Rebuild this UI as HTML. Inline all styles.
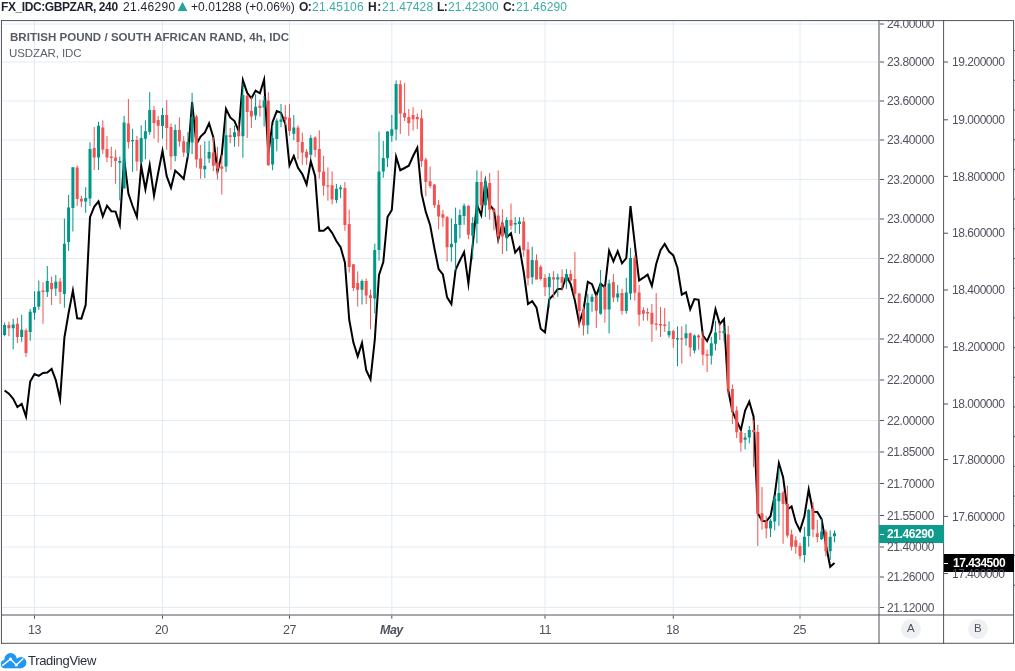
<!DOCTYPE html><html><head><meta charset="utf-8"><title>GBPZAR chart</title><style>
html,body{margin:0;padding:0;background:#fff;}body{width:1015px;height:671px;position:relative;overflow:hidden;font-family:"Liberation Sans",sans-serif;}
svg{position:absolute;left:0;top:0;}
.t{position:absolute;white-space:nowrap;line-height:1;margin:0;padding:0;will-change:transform;}
</style></head><body>
<svg width="1015" height="671" viewBox="0 0 1015 671" shape-rendering="geometricPrecision">
<path d="M2 24.0H879 M2 62.0H879 M2 101.0H879 M2 140.0H879 M2 179.5H879 M2 219.0H879 M2 258.5H879 M2 298.5H879 M2 339.0H879 M2 380.0H879 M2 420.5H879 M2 452.0H879 M2 483.5H879 M2 515.5H879 M2 547.0H879 M2 577.0H879 M2 607.5H879 M34.5 21V615 M162.5 21V615 M289.5 21V615 M391.8 21V615 M545.0 21V615 M673.3 21V615 M800.0 21V615" stroke="#e0ecf2" stroke-width="1" fill="none"/>
<polyline points="4.6,390.5 8.9,393.7 13.2,398.9 17.4,407.1 21.7,403.9 26.0,416.5 30.2,381.6 34.5,374.0 38.8,375.8 43.0,373.0 47.3,372.6 51.6,369.0 55.8,380.1 60.1,399.3 64.4,337.7 68.6,313.0 72.9,290.6 77.2,318.4 81.4,318.6 85.7,304.7 90.0,217.2 94.2,206.8 98.5,201.4 102.8,216.4 107.0,205.7 111.3,211.2 115.6,211.6 119.8,224.8 124.1,158.3 128.4,193.5 132.6,206.0 136.9,216.9 141.2,166.0 145.4,189.3 149.7,165.2 154.0,195.6 158.2,172.7 162.5,150.9 166.7,176.2 171.0,187.8 175.2,170.6 179.4,174.5 183.7,178.9 187.9,155.9 192.1,102.2 196.4,144.1 200.6,136.5 204.8,132.6 209.1,123.4 213.3,137.1 217.5,171.7 221.8,154.1 226.0,108.8 230.2,117.4 234.5,121.0 238.7,131.0 242.9,80.1 247.2,92.9 251.4,98.3 255.6,90.6 259.9,93.3 264.1,79.7 268.3,154.0 272.6,121.9 276.8,111.1 281.0,112.7 285.3,123.8 289.5,165.4 293.8,155.9 298.0,167.8 302.3,174.1 306.6,184.5 310.8,161.4 315.1,175.9 319.3,230.8 323.6,230.8 327.9,227.2 332.1,232.9 336.4,241.0 340.6,247.2 344.9,262.5 349.2,319.5 353.4,342.6 357.7,356.4 362.0,342.9 366.2,370.2 370.5,379.3 374.8,339.6 379.0,275.0 383.3,262.0 387.5,217.0 391.8,210.0 396.1,156.7 400.3,170.2 404.6,168.0 408.8,165.7 413.1,156.0 417.3,147.7 421.6,193.6 425.8,211.9 430.1,224.9 434.4,248.2 438.6,269.0 442.9,274.5 447.1,297.4 451.4,304.1 455.6,269.8 459.9,260.5 464.1,252.1 468.4,283.6 472.7,245.0 476.9,204.4 481.2,215.1 485.4,181.5 489.7,205.3 493.9,209.7 498.2,239.7 502.4,223.5 506.7,237.4 511.0,233.2 515.2,252.6 519.5,247.4 523.7,272.0 528.0,304.0 532.2,301.1 536.5,307.6 540.7,328.8 545.0,332.3 549.3,299.3 553.6,294.6 557.8,288.9 562.1,288.7 566.4,275.7 570.7,284.2 574.9,300.6 579.2,323.0 583.5,310.0 587.8,281.9 592.0,284.2 596.3,295.7 600.6,283.5 604.9,287.7 609.1,250.8 613.4,261.4 617.7,251.2 622.0,263.3 626.3,258.2 630.5,206.2 634.8,244.0 639.1,280.6 643.4,277.7 647.6,274.6 651.9,285.8 656.2,264.0 660.5,250.1 664.7,243.9 669.0,251.6 673.3,255.4 677.5,268.0 681.8,294.7 686.0,292.3 690.2,309.3 694.4,299.1 698.6,299.8 702.9,335.6 707.1,341.1 711.3,331.1 715.5,309.2 719.8,324.1 724.0,319.0 728.2,390.0 732.4,411.4 736.7,421.0 740.9,430.0 745.1,410.6 749.3,401.6 753.6,416.6 757.8,513.2 762.0,520.7 766.2,521.4 770.5,516.2 774.7,495.3 778.9,463.2 783.1,477.3 787.4,509.4 791.6,506.5 795.8,522.2 800.0,530.5 804.4,516.2 808.7,489.5 813.0,511.7 817.3,512.0 821.6,519.2 825.9,544.5 830.2,566.8 834.5,563.1" fill="none" stroke="#000" stroke-width="2" stroke-linejoin="miter" stroke-miterlimit="10" stroke-linecap="butt" shape-rendering="geometricPrecision"/>
<path d="M4.6 322.6V336.3 M13.2 318.8V349.4 M21.7 314.8V341.8 M30.2 308.9V340.8 M34.5 291.2V319.6 M38.8 280.5V309.8 M47.3 266.0V297.0 M55.8 274.9V296.0 M64.4 218.7V307.7 M68.6 194.9V250.9 M72.9 167.3V231.5 M85.7 187.2V212.8 M90.0 142.2V206.0 M98.5 121.7V170.0 M119.8 156.6V200.4 M124.1 115.8V188.4 M132.6 128.8V171.8 M141.2 125.3V161.9 M145.4 120.4V159.2 M149.7 92.2V134.7 M162.5 107.9V138.7 M175.2 124.5V161.2 M187.9 132.3V157.7 M192.1 92.9V154.1 M204.8 141.2V178.2 M209.1 140.7V163.0 M226.0 118.3V172.0 M234.5 125.5V146.6 M242.9 83.4V157.7 M255.6 94.2V120.1 M264.1 95.9V126.4 M272.6 125.5V170.2 M276.8 118.3V151.4 M281.0 104.0V127.2 M293.8 115.0V140.1 M310.8 135.1V158.9 M336.4 183.9V203.1 M340.6 185.2V198.2 M362.0 279.4V304.5 M374.8 243.7V313.5 M379.0 131.5V260.7 M383.3 141.0V177.7 M387.5 131.1V167.0 M391.8 115.0V141.8 M396.1 80.4V140.4 M451.4 218.3V261.6 M455.6 207.6V270.2 M459.9 209.4V238.3 M464.1 203.5V224.9 M472.7 217.2V259.5 M476.9 170.4V243.4 M485.4 178.4V216.9 M506.7 217.2V251.2 M515.2 217.2V233.0 M519.5 217.2V233.9 M532.2 246.7V284.4 M549.3 273.2V307.3 M557.8 273.7V296.8 M566.4 269.0V288.9 M587.8 293.9V334.1 M592.0 293.9V311.8 M600.6 270.0V314.7 M609.1 279.7V333.4 M617.7 284.9V301.8 M626.3 277.9V313.7 M630.5 247.7V299.8 M669.0 321.4V337.8 M677.5 326.3V366.1 M686.0 324.4V345.7 M694.4 334.4V353.5 M711.3 336.8V364.6 M715.5 321.0V350.5 M724.0 326.3V341.5 M745.1 433.0V449.4 M749.3 426.0V443.4 M770.5 519.2V537.1 M774.7 495.3V530.4 M778.9 468.0V525.9 M804.4 526.9V562.4 M808.7 509.0V546.8 M821.6 519.2V540.0 M830.2 530.4V560.0 M834.5 530.4V542.3" stroke="#009688" stroke-width="1" fill="none"/>
<path d="M8.9 321.7V336.3 M17.4 317.8V343.1 M26.0 328.5V356.9 M43.0 282.4V323.8 M51.6 276.7V305.0 M60.1 277.9V303.9 M77.2 165.5V206.0 M81.4 195.9V207.2 M94.2 127.0V170.0 M102.8 120.4V153.9 M107.0 136.0V162.3 M111.3 146.7V167.0 M115.6 149.8V183.7 M128.4 99.0V148.5 M136.9 136.0V170.9 M154.0 106.1V138.7 M158.2 115.8V142.6 M166.7 100.2V149.8 M171.0 123.5V170.0 M179.4 117.4V146.6 M183.7 136.2V156.8 M196.4 114.7V167.5 M200.6 145.1V178.8 M213.3 137.1V171.1 M217.5 146.9V179.5 M221.8 155.0V194.5 M230.2 128.1V143.3 M238.7 123.7V146.6 M247.2 95.0V138.0 M251.4 96.8V128.1 M259.9 99.5V116.5 M268.3 92.4V165.7 M285.3 105.0V125.2 M289.5 104.0V135.6 M298.0 125.4V159.4 M302.3 132.6V164.8 M306.6 149.0V164.8 M315.1 136.2V157.1 M319.3 130.3V178.6 M323.6 155.8V195.5 M327.9 167.3V200.6 M332.1 171.4V204.5 M344.9 182.1V230.8 M349.2 209.7V272.6 M353.4 264.2V291.0 M357.7 271.4V306.5 M366.2 278.5V304.0 M370.5 289.8V329.2 M400.3 80.4V134.0 M404.6 82.9V121.0 M408.8 109.0V135.8 M413.1 107.2V130.5 M417.3 113.5V129.0 M421.6 109.7V167.0 M425.8 157.7V196.3 M430.1 166.6V188.3 M434.4 183.8V207.9 M438.6 199.9V229.4 M442.9 210.1V226.7 M447.1 216.0V261.6 M468.4 205.3V239.2 M481.2 171.3V210.6 M489.7 173.0V219.6 M493.9 207.9V230.3 M498.2 170.4V242.3 M502.4 209.4V254.0 M511.0 203.5V229.8 M523.7 217.2V256.8 M528.0 242.0V285.5 M536.5 254.3V279.4 M540.7 264.9V280.5 M545.0 274.1V296.0 M553.6 271.1V298.3 M562.1 269.3V290.9 M570.7 270.0V281.2 M574.9 252.1V297.6 M579.2 292.8V328.1 M583.5 306.5V335.4 M596.3 294.6V328.1 M604.9 285.7V322.6 M613.4 274.0V302.1 M622.0 288.7V314.7 M634.8 255.1V300.6 M639.1 284.9V326.2 M643.4 307.3V320.7 M647.6 308.0V320.7 M651.9 304.0V341.8 M656.2 293.1V330.4 M660.5 307.0V337.1 M664.7 308.0V331.8 M673.3 329.6V347.8 M681.8 326.3V363.6 M690.2 332.6V356.7 M698.6 334.4V349.7 M702.9 331.4V365.4 M707.1 349.7V372.0 M719.8 322.9V340.0 M728.2 326.0V395.3 M732.4 384.4V424.1 M736.7 406.2V438.2 M740.9 430.8V451.6 M753.6 420.3V467.3 M757.8 424.8V546.0 M762.0 487.0V529.6 M766.2 516.2V538.3 M783.1 490.9V543.8 M787.4 485.6V537.8 M791.6 529.6V550.5 M795.8 536.3V553.8 M800.0 543.0V559.4 M813.0 502.0V537.1 M817.3 519.9V542.3 M825.9 529.6V556.4" stroke="#f25350" stroke-width="1" fill="none"/>
<path d="M3.1 325.0h3V335.1h-3z M11.7 324.4h3V328.2h-3z M20.2 329.7h3V336.9h-3z M28.7 311.8h3V332.1h-3z M33.0 307.1h3V312.8h-3z M37.3 291.2h3V306.7h-3z M45.8 280.9h3V291.9h-3z M54.3 281.8h3V288.4h-3z M62.9 243.8h3V294.0h-3z M67.1 207.4h3V242.0h-3z M71.4 167.3h3V208.0h-3z M84.2 197.9h3V201.5h-3z M88.5 149.0h3V198.5h-3z M97.0 125.8h3V157.5h-3z M118.3 161.0h3V162.8h-3z M122.6 122.6h3V188.4h-3z M131.1 140.1h3V141.3h-3z M139.7 138.1h3V161.9h-3z M143.9 131.2h3V138.7h-3z M148.2 110.0h3V131.9h-3z M161.0 115.1h3V126.1h-3z M173.7 130.0h3V156.0h-3z M186.4 141.9h3V153.2h-3z M190.6 116.9h3V142.5h-3z M203.3 165.7h3V169.3h-3z M207.6 151.9h3V158.6h-3z M224.5 135.3h3V166.6h-3z M233.0 132.3h3V137.1h-3z M241.4 95.0h3V136.2h-3z M254.1 106.7h3V115.6h-3z M262.6 100.4h3V107.6h-3z M271.1 138.0h3V164.5h-3z M275.3 120.6h3V138.9h-3z M279.5 119.6h3V121.8h-3z M292.3 127.6h3V133.8h-3z M309.3 137.9h3V154.8h-3z M334.9 188.7h3V200.0h-3z M339.1 187.5h3V189.3h-3z M360.5 280.9h3V289.8h-3z M373.2 249.9h3V298.4h-3z M377.5 171.4h3V249.9h-3z M381.8 158.0h3V171.4h-3z M386.0 131.4h3V158.2h-3z M390.3 129.2h3V135.7h-3z M394.6 84.0h3V129.6h-3z M449.9 243.7h3V247.3h-3z M454.1 224.0h3V242.8h-3z M458.4 215.1h3V224.9h-3z M462.6 205.8h3V216.0h-3z M471.2 223.1h3V235.7h-3z M475.4 182.0h3V223.7h-3z M483.9 182.9h3V205.3h-3z M505.2 220.1h3V237.5h-3z M513.7 223.1h3V224.4h-3z M518.0 221.4h3V224.0h-3z M530.7 260.1h3V277.3h-3z M547.8 277.0h3V287.3h-3z M556.3 277.2h3V279.4h-3z M564.9 274.0h3V280.9h-3z M586.3 302.8h3V325.2h-3z M590.5 296.8h3V301.8h-3z M599.1 285.7h3V313.7h-3z M607.6 283.4h3V309.5h-3z M616.2 293.4h3V297.6h-3z M624.8 292.4h3V311.0h-3z M629.0 258.1h3V293.4h-3z M667.5 331.1h3V335.3h-3z M676.0 338.3h3V339.5h-3z M684.5 333.3h3V338.3h-3z M692.9 335.6h3V350.5h-3z M709.8 343.3h3V355.7h-3z M714.0 332.6h3V343.8h-3z M722.5 330.8h3V333.3h-3z M743.6 437.5h3V439.7h-3z M747.8 430.0h3V437.5h-3z M769.0 520.7h3V528.4h-3z M773.2 498.3h3V521.4h-3z M777.4 493.0h3V501.3h-3z M802.9 536.8h3V554.9h-3z M807.2 509.9h3V535.9h-3z M820.1 531.4h3V539.3h-3z M828.7 536.8h3V551.2h-3z M833.0 533.3h3V536.3h-3z" fill="#009688"/>
<path d="M7.4 325.0h3V328.2h-3z M15.9 323.8h3V336.9h-3z M24.5 330.3h3V352.9h-3z M41.5 290.4h3V291.9h-3z M50.1 282.9h3V289.2h-3z M58.6 281.5h3V291.9h-3z M75.7 167.6h3V199.1h-3z M79.9 198.8h3V201.5h-3z M92.7 148.0h3V157.5h-3z M101.3 127.4h3V149.4h-3z M105.5 149.0h3V157.5h-3z M109.8 156.6h3V158.0h-3z M114.1 157.5h3V161.0h-3z M126.9 123.5h3V141.9h-3z M135.4 140.1h3V161.6h-3z M152.5 110.0h3V122.9h-3z M156.7 119.9h3V125.8h-3z M165.2 115.1h3V127.9h-3z M169.5 127.0h3V156.6h-3z M177.9 130.0h3V141.6h-3z M182.2 141.2h3V152.6h-3z M194.9 116.5h3V159.5h-3z M199.1 158.6h3V168.7h-3z M211.8 152.6h3V165.7h-3z M216.0 162.7h3V168.7h-3z M220.3 166.6h3V168.7h-3z M228.7 135.3h3V137.1h-3z M237.2 132.3h3V136.2h-3z M245.7 95.6h3V112.0h-3z M249.9 110.8h3V116.5h-3z M258.4 105.8h3V107.9h-3z M266.8 100.4h3V165.2h-3z M283.8 116.8h3V119.8h-3z M288.0 117.7h3V131.1h-3z M296.5 127.6h3V141.9h-3z M300.8 141.9h3V152.6h-3z M305.1 151.7h3V157.6h-3z M313.6 137.4h3V149.9h-3z M317.8 149.0h3V171.9h-3z M322.1 171.4h3V185.7h-3z M326.4 185.2h3V186.4h-3z M330.6 185.2h3V199.5h-3z M343.4 188.0h3V224.9h-3z M347.7 224.0h3V266.9h-3z M351.9 264.2h3V288.0h-3z M356.2 283.0h3V289.8h-3z M364.7 280.9h3V295.5h-3z M369.0 295.2h3V297.9h-3z M398.8 84.3h3V113.4h-3z M403.1 112.9h3V117.4h-3z M407.3 116.9h3V123.3h-3z M411.6 115.1h3V119.2h-3z M415.8 116.9h3V119.2h-3z M420.1 118.3h3V161.2h-3z M424.3 159.4h3V182.0h-3z M428.6 181.2h3V186.0h-3z M432.9 184.6h3V205.3h-3z M437.1 204.7h3V216.5h-3z M441.4 214.2h3V217.8h-3z M445.6 217.2h3V247.3h-3z M466.9 205.8h3V234.8h-3z M479.7 182.0h3V205.3h-3z M488.2 182.9h3V209.7h-3z M492.4 209.7h3V211.9h-3z M496.7 215.4h3V236.6h-3z M500.9 224.0h3V236.6h-3z M509.5 220.1h3V225.8h-3z M522.2 221.4h3V250.3h-3z M526.5 249.4h3V278.2h-3z M535.0 260.2h3V279.4h-3z M539.2 266.7h3V279.0h-3z M543.5 278.0h3V287.3h-3z M552.1 277.2h3V279.4h-3z M560.6 277.0h3V282.7h-3z M569.2 274.0h3V280.5h-3z M573.4 279.0h3V293.9h-3z M577.7 293.4h3V311.0h-3z M582.0 310.4h3V325.6h-3z M594.8 296.8h3V310.7h-3z M603.4 286.4h3V309.5h-3z M611.9 281.9h3V297.6h-3z M620.5 293.1h3V311.0h-3z M633.3 258.1h3V292.8h-3z M637.6 292.4h3V314.7h-3z M641.9 310.3h3V313.7h-3z M646.1 312.0h3V313.6h-3z M650.4 312.7h3V324.3h-3z M654.7 323.4h3V324.8h-3z M659.0 324.0h3V325.4h-3z M663.2 324.4h3V325.9h-3z M671.8 331.1h3V338.9h-3z M680.2 338.3h3V339.5h-3z M688.7 333.3h3V347.5h-3z M697.1 335.6h3V337.4h-3z M701.4 337.8h3V354.7h-3z M705.6 354.2h3V355.7h-3z M718.3 331.4h3V332.6h-3z M726.7 334.5h3V389.3h-3z M730.9 388.9h3V410.7h-3z M735.2 410.6h3V432.3h-3z M739.4 432.0h3V442.7h-3z M752.1 430.0h3V432.3h-3z M756.3 432.0h3V514.0h-3z M760.5 513.2h3V521.4h-3z M764.8 521.4h3V528.4h-3z M781.6 492.4h3V504.0h-3z M785.9 504.0h3V535.6h-3z M790.1 534.4h3V546.8h-3z M794.3 540.3h3V546.8h-3z M798.5 546.0h3V556.1h-3z M811.5 508.7h3V529.6h-3z M815.8 533.3h3V537.1h-3z M824.4 531.8h3V551.2h-3z" fill="#f25350"/>
<path d="M1 20.6H1014 M1 643.3H1014 M1 615H1014 M1.45 20V644 M1013.6 20V644 M879 20V644 M943.6 20V644" stroke="#50535e" stroke-width="1" fill="none"/>
<path d="M880 24.0h4 M880 62.0h4 M880 101.0h4 M880 140.0h4 M880 179.5h4 M880 219.0h4 M880 258.5h4 M880 298.5h4 M880 339.0h4 M880 380.0h4 M880 420.5h4 M880 452.0h4 M880 483.5h4 M880 515.5h4 M880 547.0h4 M880 577.0h4 M880 607.5h4 M944 62.0h4 M944 119.8h4 M944 176.4h4 M944 233.2h4 M944 290.0h4 M944 347.0h4 M944 404.0h4 M944 459.6h4 M944 516.4h4 M944 573.6h4 M34.5 615.5v3.2 M162.5 615.5v3.2 M289.5 615.5v3.2 M391.8 615.5v3.2 M545.0 615.5v3.2 M673.3 615.5v3.2 M800.0 615.5v3.2 M1014 50.6h1 M1014 80.3h1 M1014 110.0h1 M1014 139.7h1 M1014 169.4h1 M1014 199.1h1 M1014 228.8h1 M1014 258.5h1 M1014 288.2h1 M1014 317.9h1 M1014 347.6h1 M1014 377.3h1 M1014 407.0h1 M1014 436.7h1 M1014 466.4h1 M1014 496.1h1 M1014 525.8h1 M1014 555.5h1 M1014 585.2h1" stroke="#50535e" stroke-width="1" fill="none"/>
<rect x="879" y="525" width="65" height="18" fill="#0e9b8c"/>
<rect x="944" y="554" width="70" height="18" fill="#000"/>
<path d="M880 534.5h4 M944 563.5h4" stroke="#fff" stroke-width="1"/>
<g shape-rendering="geometricPrecision"><circle cx="911" cy="629" r="10" fill="#eef0f4"/><circle cx="978" cy="629" r="10" fill="#eef0f4"/>
<path d="M177.6 10.9L182.5 1.7L187.4 10.9z" fill="#26a69a"/>
<g fill="#2196f3"><circle cx="10.6" cy="659.4" r="6.3"/><circle cx="20.8" cy="662.6" r="5.6"/><circle cx="5" cy="664.2" r="4.1"/><rect x="5" y="661" width="15.6" height="7.3"/></g>
<path d="M2.2 665.6L10.5 659.1L16.3 665L23.3 658.6" fill="none" stroke="#fff" stroke-width="1.4" stroke-linejoin="round"/>
<circle cx="10.5" cy="659.1" r="1.6" fill="#fff"/><circle cx="16.3" cy="665" r="1.6" fill="#fff"/></g>
</svg>
<div class="t" id="h1" style="left:0.76px;top:0.74px;font-size:12px;font-weight:bold;color:#1e222d;letter-spacing:-0.410px">FX_IDC:GBPZAR, 240</div>
<div class="t" id="h2" style="left:123.07px;top:0.74px;font-size:12px;font-weight:normal;color:#1e222d;letter-spacing:0.298px">21.46290</div>
<div class="t" id="h3" style="left:191.11px;top:0.74px;font-size:12px;font-weight:normal;color:#1e222d;letter-spacing:0.056px">+0.01288 (+0.06%)</div>
<div class="t" id="h4" style="left:299.38px;top:0.74px;font-size:12px;font-weight:bold;color:#1e222d;letter-spacing:-0.500px">O:</div>
<div class="t" id="h5" style="left:311.98px;top:0.74px;font-size:12px;font-weight:normal;color:#3aaea3;letter-spacing:0.231px">21.45106</div>
<div class="t" id="h6" style="left:367.96px;top:0.74px;font-size:12px;font-weight:bold;color:#1e222d;letter-spacing:0.500px">H:</div>
<div class="t" id="h7" style="left:381.98px;top:0.74px;font-size:12px;font-weight:normal;color:#3aaea3;letter-spacing:0.151px">21.47428</div>
<div class="t" id="h8" style="left:436.77px;top:0.74px;font-size:12px;font-weight:bold;color:#1e222d;letter-spacing:-0.500px">L:</div>
<div class="t" id="h9" style="left:447.98px;top:0.74px;font-size:12px;font-weight:normal;color:#3aaea3;letter-spacing:0.084px">21.42300</div>
<div class="t" id="h10" style="left:503.02px;top:0.74px;font-size:12px;font-weight:bold;color:#1e222d;letter-spacing:-0.500px">C:</div>
<div class="t" id="h11" style="left:515.58px;top:0.74px;font-size:12px;font-weight:normal;color:#3aaea3;letter-spacing:0.141px">21.46290</div>
<div class="t" id="t1" style="left:9.50px;top:31.77px;font-size:11.5px;font-weight:bold;color:#555a66;letter-spacing:0.037px">BRITISH POUND / SOUTH AFRICAN RAND, 4h, IDC</div>
<div class="t" id="t2" style="left:9.34px;top:48.47px;font-size:11.5px;font-weight:normal;color:#5d606b;letter-spacing:-0.084px">USDZAR, IDC</div>
<div class="t" id="tv" style="left:28.27px;top:654.40px;font-size:13px;font-weight:normal;color:#2a2e39;letter-spacing:-0.314px">TradingView</div>
<div class="t" id="l0" style="clip-path:inset(2.76px 0 0 0);left:887.18px;top:18.24px;font-size:12px;font-weight:normal;color:#50535e;letter-spacing:-0.388px">24.00000</div>
<div class="t" id="l1" style="left:887.18px;top:56.24px;font-size:12px;font-weight:normal;color:#50535e;letter-spacing:-0.388px">23.80000</div>
<div class="t" id="l2" style="left:887.18px;top:95.24px;font-size:12px;font-weight:normal;color:#50535e;letter-spacing:-0.388px">23.60000</div>
<div class="t" id="l3" style="left:887.18px;top:134.24px;font-size:12px;font-weight:normal;color:#50535e;letter-spacing:-0.388px">23.40000</div>
<div class="t" id="l4" style="left:887.18px;top:173.74px;font-size:12px;font-weight:normal;color:#50535e;letter-spacing:-0.388px">23.20000</div>
<div class="t" id="l5" style="left:887.18px;top:213.24px;font-size:12px;font-weight:normal;color:#50535e;letter-spacing:-0.388px">23.00000</div>
<div class="t" id="l6" style="left:887.18px;top:252.74px;font-size:12px;font-weight:normal;color:#50535e;letter-spacing:-0.388px">22.80000</div>
<div class="t" id="l7" style="left:887.18px;top:292.74px;font-size:12px;font-weight:normal;color:#50535e;letter-spacing:-0.388px">22.60000</div>
<div class="t" id="l8" style="left:887.18px;top:333.24px;font-size:12px;font-weight:normal;color:#50535e;letter-spacing:-0.388px">22.40000</div>
<div class="t" id="l9" style="left:887.18px;top:374.24px;font-size:12px;font-weight:normal;color:#50535e;letter-spacing:-0.388px">22.20000</div>
<div class="t" id="l10" style="left:887.18px;top:414.74px;font-size:12px;font-weight:normal;color:#50535e;letter-spacing:-0.388px">22.00000</div>
<div class="t" id="l11" style="left:887.18px;top:446.24px;font-size:12px;font-weight:normal;color:#50535e;letter-spacing:-0.388px">21.85000</div>
<div class="t" id="l12" style="left:887.18px;top:477.74px;font-size:12px;font-weight:normal;color:#50535e;letter-spacing:-0.388px">21.70000</div>
<div class="t" id="l13" style="left:887.18px;top:509.74px;font-size:12px;font-weight:normal;color:#50535e;letter-spacing:-0.388px">21.55000</div>
<div class="t" id="l14" style="left:887.18px;top:541.24px;font-size:12px;font-weight:normal;color:#50535e;letter-spacing:-0.388px">21.40000</div>
<div class="t" id="l15" style="left:887.18px;top:571.24px;font-size:12px;font-weight:normal;color:#50535e;letter-spacing:-0.388px">21.26000</div>
<div class="t" id="l16" style="left:887.18px;top:601.74px;font-size:12px;font-weight:normal;color:#50535e;letter-spacing:-0.388px">21.12000</div>
<div class="t" id="r0" style="left:952.30px;top:56.24px;font-size:12px;font-weight:normal;color:#50535e;letter-spacing:-0.478px">19.200000</div>
<div class="t" id="r1" style="left:952.30px;top:114.04px;font-size:12px;font-weight:normal;color:#50535e;letter-spacing:-0.478px">19.000000</div>
<div class="t" id="r2" style="left:952.30px;top:170.64px;font-size:12px;font-weight:normal;color:#50535e;letter-spacing:-0.478px">18.800000</div>
<div class="t" id="r3" style="left:952.30px;top:227.44px;font-size:12px;font-weight:normal;color:#50535e;letter-spacing:-0.478px">18.600000</div>
<div class="t" id="r4" style="left:952.30px;top:284.24px;font-size:12px;font-weight:normal;color:#50535e;letter-spacing:-0.478px">18.400000</div>
<div class="t" id="r5" style="left:952.30px;top:341.24px;font-size:12px;font-weight:normal;color:#50535e;letter-spacing:-0.478px">18.200000</div>
<div class="t" id="r6" style="left:952.30px;top:398.24px;font-size:12px;font-weight:normal;color:#50535e;letter-spacing:-0.478px">18.000000</div>
<div class="t" id="r7" style="left:952.30px;top:453.84px;font-size:12px;font-weight:normal;color:#50535e;letter-spacing:-0.478px">17.800000</div>
<div class="t" id="r8" style="left:952.30px;top:510.64px;font-size:12px;font-weight:normal;color:#50535e;letter-spacing:-0.478px">17.600000</div>
<div class="t" id="r9" style="left:952.30px;top:567.84px;font-size:12px;font-weight:normal;color:#50535e;letter-spacing:-0.478px">17.400000</div>
<div class="t" id="x0" style="left:27.73px;top:623.52px;font-size:12.5px;font-weight:normal;color:#50535e;letter-spacing:-0.500px">13</div>
<div class="t" id="x1" style="left:155.05px;top:623.52px;font-size:12.5px;font-weight:normal;color:#50535e;letter-spacing:-0.500px">20</div>
<div class="t" id="x2" style="left:282.52px;top:623.52px;font-size:12.5px;font-weight:normal;color:#50535e;letter-spacing:-0.500px">27</div>
<div class="t" id="x3" style="left:379.54px;top:623.52px;font-size:12.5px;font-weight:bold;font-style:italic;color:#50535e;letter-spacing:-0.500px">May</div>
<div class="t" id="x4" style="left:539.03px;top:623.52px;font-size:12.5px;font-weight:normal;color:#50535e;letter-spacing:-0.500px">11</div>
<div class="t" id="x5" style="left:666.03px;top:623.52px;font-size:12.5px;font-weight:normal;color:#50535e;letter-spacing:-0.500px">18</div>
<div class="t" id="x6" style="left:792.91px;top:623.52px;font-size:12.5px;font-weight:normal;color:#50535e;letter-spacing:-0.500px">25</div>
<div class="t" id="pa" style="left:887.42px;top:528.24px;font-size:12px;font-weight:bold;color:#fff;letter-spacing:-0.420px">21.46290</div>
<div class="t" id="pb" style="left:952.62px;top:557.24px;font-size:12px;font-weight:bold;color:#fff;letter-spacing:-0.516px">17.434500</div>
<div class="t" id="ca" style="left:907.21px;top:622.67px;font-size:11.5px;font-weight:normal;color:#50535e;letter-spacing:0.000px">A</div>
<div class="t" id="cb" style="left:974.04px;top:622.67px;font-size:11.5px;font-weight:normal;color:#50535e;letter-spacing:0.000px">B</div>
</body></html>
